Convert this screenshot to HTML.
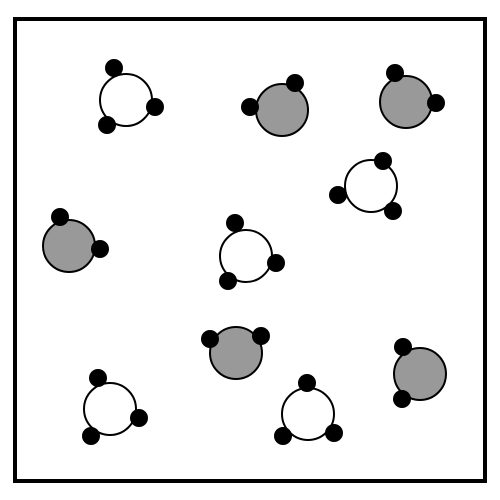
<!DOCTYPE html>
<html><head><meta charset="utf-8"><style>html,body{margin:0;padding:0;background:#fff}svg{display:block}</style></head>
<body>
<svg width="500" height="500" viewBox="0 0 500 500">
<rect x="0" y="0" width="500" height="500" fill="#fff"/>
<rect x="15" y="19" width="470" height="462" fill="none" stroke="#000" stroke-width="4"/>
<g stroke="#000" stroke-width="2">
<circle cx="126" cy="100" r="26" fill="#fff"/>
<circle cx="282" cy="110" r="26" fill="#999"/>
<circle cx="406" cy="102" r="26" fill="#999"/>
<circle cx="371" cy="186" r="26" fill="#fff"/>
<circle cx="69" cy="246" r="26" fill="#999"/>
<circle cx="246" cy="256" r="26" fill="#fff"/>
<circle cx="236" cy="353" r="26" fill="#999"/>
<circle cx="420" cy="374" r="26" fill="#999"/>
<circle cx="110" cy="409" r="26" fill="#fff"/>
<circle cx="308" cy="414" r="26" fill="#fff"/>
</g>
<g fill="#000">
<circle cx="114" cy="68" r="9"/><circle cx="155" cy="107" r="9"/><circle cx="107" cy="125" r="9"/>
<circle cx="250" cy="107" r="9"/><circle cx="295" cy="83" r="9"/>
<circle cx="395" cy="73" r="9"/><circle cx="436" cy="103" r="9"/>
<circle cx="383" cy="161" r="9"/><circle cx="338" cy="195" r="9"/><circle cx="393" cy="211" r="9"/>
<circle cx="60" cy="217" r="9"/><circle cx="100" cy="249" r="9"/>
<circle cx="235" cy="223" r="9"/><circle cx="276" cy="263" r="9"/><circle cx="228" cy="281" r="9"/>
<circle cx="210" cy="339" r="9"/><circle cx="261" cy="336" r="9"/>
<circle cx="403" cy="347" r="9"/><circle cx="402" cy="399" r="9"/>
<circle cx="98" cy="378" r="9"/><circle cx="139" cy="418" r="9"/><circle cx="91" cy="436" r="9"/>
<circle cx="307" cy="383" r="9"/><circle cx="283" cy="436" r="9"/><circle cx="334" cy="433" r="9"/>
</g>
</svg>
</body></html>
